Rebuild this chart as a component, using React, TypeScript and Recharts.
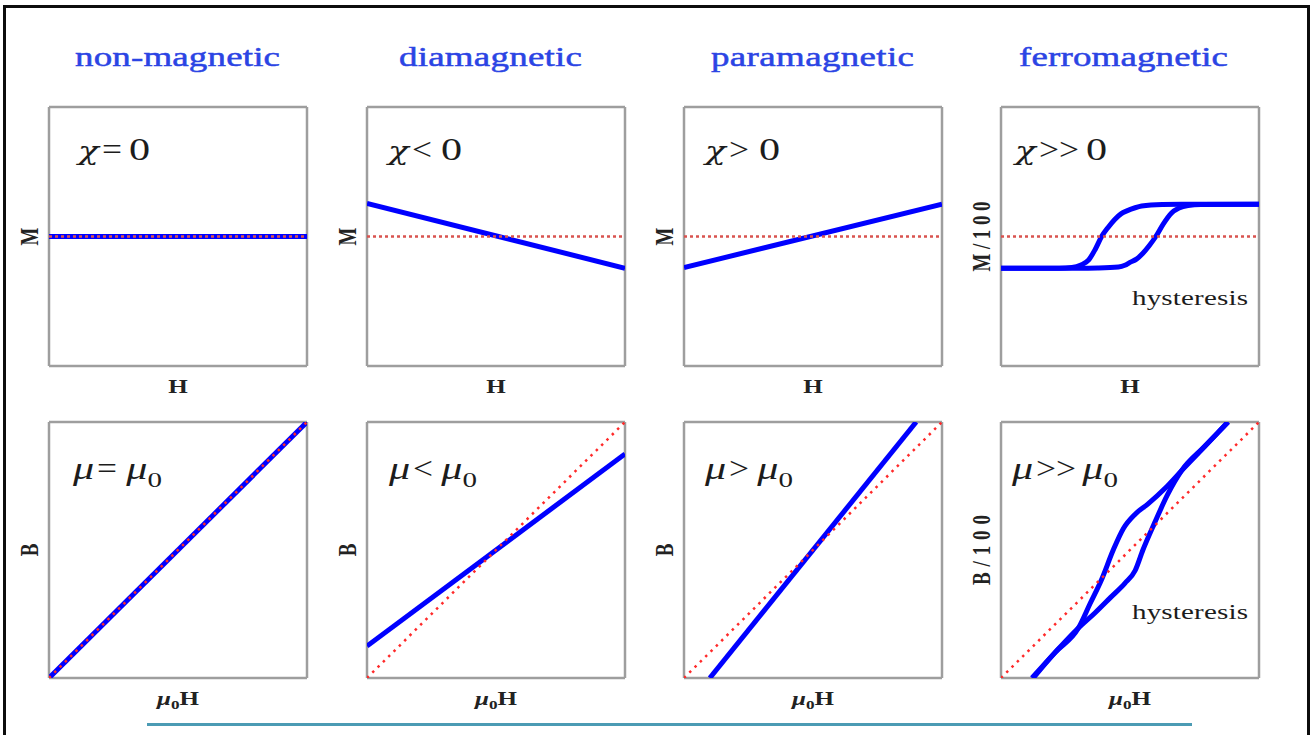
import React from "react";
import { LineChart, Line, XAxis, YAxis, CartesianGrid, Label } from "recharts";

type Pt = { x: number; y: number };

// Lettering in this figure is set wide, so every text run is stretched horizontally.
const SX = 1.32;
const SERIF = "'Liberation Serif', 'Times New Roman', serif";

const materials = ["non-magnetic", "diamagnetic", "paramagnetic", "ferromagnetic"];
const chiRelations = ["=", "<", ">", ">>"];
const muRelations = ["=", "<", ">", ">>"];
const magnetizationLabels = ["M", "M", "M", "M/100"];
const inductionLabels = ["B", "B", "B", "B/100"];

// vacuum references (red dotted)
const zeroLine: Pt[] = [
  { x: -1, y: 0 },
  { x: 1, y: 0 },
];
const vacuumLine: Pt[] = [
  { x: -1, y: -1 },
  { x: 1, y: 1 },
];

// M(H)
const nonMagM: Pt[] = [
  { x: -1, y: 0 },
  { x: 1, y: 0 },
];
const diaM: Pt[] = [
  { x: -1, y: 0.255 },
  { x: 1, y: -0.245 },
];
const paraM: Pt[] = [
  { x: -1, y: -0.24 },
  { x: 1, y: 0.25 },
];
const ferroMFalling: Pt[] = [
  { x: -1, y: -0.245 },
  { x: -0.55, y: -0.245 },
  { x: -0.45, y: -0.24 },
  { x: -0.38, y: -0.22 },
  { x: -0.32, y: -0.18 },
  { x: -0.27, y: -0.1 },
  { x: -0.22, y: 0 },
  { x: -0.17, y: 0.07 },
  { x: -0.12, y: 0.13 },
  { x: -0.07, y: 0.175 },
  { x: -0.02, y: 0.2 },
  { x: 0.04, y: 0.222 },
  { x: 0.09, y: 0.235 },
  { x: 0.25, y: 0.248 },
  { x: 0.4, y: 0.25 },
  { x: 1, y: 0.25 },
];
const ferroMRising: Pt[] = [
  { x: -1, y: -0.245 },
  { x: -0.4, y: -0.245 },
  { x: -0.25, y: -0.243 },
  { x: -0.09, y: -0.235 },
  { x: -0.04, y: -0.222 },
  { x: 0, y: -0.2 },
  { x: 0.05, y: -0.175 },
  { x: 0.1, y: -0.13 },
  { x: 0.15, y: -0.07 },
  { x: 0.2, y: 0 },
  { x: 0.26, y: 0.1 },
  { x: 0.32, y: 0.18 },
  { x: 0.38, y: 0.22 },
  { x: 0.45, y: 0.24 },
  { x: 0.55, y: 0.248 },
  { x: 1, y: 0.25 },
];

// B(μ0H)
const nonMagB: Pt[] = [
  { x: -1, y: -1 },
  { x: 1, y: 1 },
];
const diaB: Pt[] = [
  { x: -1, y: -0.75 },
  { x: 1, y: 0.75 },
];
const paraB: Pt[] = [
  { x: -0.8, y: -1 },
  { x: 0.8, y: 1 },
];
const ferroBUpper: Pt[] = [
  { x: -0.75, y: -1 },
  { x: -0.58, y: -0.8 },
  { x: -0.4, y: -0.61 },
  { x: -0.31, y: -0.42 },
  { x: -0.22, y: -0.23 },
  { x: -0.13, y: 0 },
  { x: -0.05, y: 0.17 },
  { x: 0.04, y: 0.28 },
  { x: 0.14, y: 0.36 },
  { x: 0.27, y: 0.48 },
  { x: 0.4, y: 0.62 },
  { x: 0.58, y: 0.81 },
  { x: 0.76, y: 1 },
];
const ferroBLower: Pt[] = [
  { x: -0.76, y: -1 },
  { x: -0.58, y: -0.8 },
  { x: -0.4, y: -0.61 },
  { x: -0.27, y: -0.49 },
  { x: -0.15, y: -0.37 },
  { x: -0.04, y: -0.26 },
  { x: 0.04, y: -0.16 },
  { x: 0.1, y: 0 },
  { x: 0.19, y: 0.21 },
  { x: 0.29, y: 0.43 },
  { x: 0.4, y: 0.62 },
  { x: 0.58, y: 0.81 },
  { x: 0.76, y: 1 },
];

const magnetizationCurves: Pt[][][] = [[nonMagM], [diaM], [paraM], [ferroMFalling, ferroMRising]];
const inductionCurves: Pt[][][] = [[nonMagB], [diaB], [paraB], [ferroBUpper, ferroBLower]];

// layout
const PANEL_W = 258;
const Y_AXIS_W = 40;
const X_AXIS_H = 40;
const PAD = 8;
const panelLefts = [49, 367, 684, 1001];
const topRow = { top: 107, height: 259 };
const bottomRow = { top: 422, height: 256 };

const titleX = [75, 399, 711, 1019];
const titleW = [205, 183, 203, 209];
const chiX = [78, 388, 705, 1015];
const chiW = [72, 74, 75, 92];
const muX = [73, 389, 705, 1012];
const muW = [89, 88, 88, 106];
const REL_GAP = 24;

const xLabel = (kind: "H" | "muH") => (props: any) => {
  const vb = props.viewBox || {};
  const cx = vb.x + vb.width / 2;
  return (
    <text
      transform={`translate(${cx},${vb.y + 27}) scale(${SX},1)`}
      textAnchor="middle"
      fontFamily={SERIF}
      fontWeight="bold"
      fontSize={19}
      fill="#222"
    >
      {kind === "H" ? (
        "H"
      ) : (
        <>
          <tspan fontStyle="italic">μ</tspan>
          <tspan fontSize={13} dy={4}>0</tspan>
          <tspan dy={-4}>H</tspan>
        </>
      )}
    </text>
  );
};

const yLabel = (text: string) => (props: any) => {
  const vb = props.viewBox || {};
  const bx = vb.x + vb.width - 11;
  const cy = vb.y + vb.height / 2;
  const long = text.length > 1;
  return (
    <text
      transform={`translate(${bx},${cy}) scale(${SX},1) rotate(-90)`}
      textAnchor="middle"
      fontFamily={SERIF}
      fontWeight="bold"
      fontSize={19}
      fill="#222"
      textLength={long ? 70 : undefined}
      lengthAdjust="spacing"
    >
      {text}
    </text>
  );
};

type PanelProps = {
  left: number;
  top: number;
  height: number;
  curves: Pt[][];
  reference: Pt[];
  yText: string;
  xKind: "H" | "muH";
  yTicks: number[];
  refDash: string;
  refColor: string;
};

function Panel({ left, top, height, curves, reference, yText, xKind, yTicks, refDash, refColor }: PanelProps) {
  return (
    <div style={{ position: "absolute", left: left - Y_AXIS_W, top: top - PAD }}>
      <LineChart
        width={Y_AXIS_W + PANEL_W + PAD}
        height={PAD + height + X_AXIS_H}
        margin={{ top: PAD, right: PAD, bottom: 0, left: 0 }}
      >
        <CartesianGrid stroke="#9e9e9e" strokeWidth={2.5} />
        <XAxis
          type="number"
          dataKey="x"
          domain={[-1, 1]}
          ticks={[-1, 0, 1]}
          tick={false}
          tickLine={false}
          axisLine={false}
          height={X_AXIS_H}
          allowDataOverflow
        >
          <Label content={xLabel(xKind)} />
        </XAxis>
        <YAxis
          type="number"
          dataKey="y"
          domain={[-1, 1]}
          ticks={yTicks}
          tick={false}
          tickLine={false}
          axisLine={false}
          width={Y_AXIS_W}
          allowDataOverflow
        >
          <Label content={yLabel(yText)} />
        </YAxis>
        {curves.map((c, i) => (
          <Line
            key={i}
            data={c}
            dataKey="y"
            type="monotone"
            stroke="#0000ff"
            strokeWidth={5}
            dot={false}
            activeDot={false}
            isAnimationActive={false}
          />
        ))}
        <Line
          data={reference}
          dataKey="y"
          type="linear"
          stroke={refColor}
          strokeWidth={2.5}
          strokeDasharray={refDash}
          dot={false}
          activeDot={false}
          isAnimationActive={false}
        />
      </LineChart>
    </div>
  );
}

// relation sign between the two sides of an inequality
function Relation({ x, y, r }: { x: number; y: number; r: string }) {
  return (
    <text
      transform={`translate(${x},${y}) scale(${SX},1)`}
      fontFamily={SERIF}
      fontSize={32}
      fill="#1c1c1c"
      textLength={(r.length > 1 ? 40 : 20) / SX}
      lengthAdjust="spacingAndGlyphs"
    >
      {r}
    </text>
  );
}

function Annotations() {
  const textProps = { fontFamily: SERIF, fill: "#1c1c1c" };
  return (
    <svg
      width={1314}
      height={735}
      style={{ position: "absolute", left: 0, top: 0, pointerEvents: "none" }}
    >
      {materials.map((m, i) => (
        <text
          key={m}
          transform={`translate(${titleX[i]},66) scale(${SX},1)`}
          fontFamily={SERIF}
          fontSize={28}
          fill="#2b44e4"
          stroke="#2b44e4"
          strokeWidth={0.5}
          textLength={titleW[i] / SX}
          lengthAdjust="spacing"
        >
          {m}
        </text>
      ))}
      {chiRelations.map((r, i) => (
        <g key={"chi" + i}>
          <text
            transform={`translate(${chiX[i]},160) scale(${SX},1)`}
            fontStyle="italic"
            fontFamily="'DejaVu Serif', serif"
            fontSize={26}
            fill="#1c1c1c"
          >
            χ
          </text>
          <Relation x={chiX[i] + REL_GAP} y={160} r={r} />
          <text
            transform={`translate(${chiX[i] + chiW[i]},160) scale(${SX},1)`}
            textAnchor="end"
            fontSize={32}
            {...textProps}
          >
            0
          </text>
        </g>
      ))}
      {muRelations.map((r, i) => (
        <g key={"mu" + i}>
          <text
            transform={`translate(${muX[i]},479) scale(${SX},1)`}
            fontStyle="italic"
            fontSize={32}
            {...textProps}
          >
            μ
          </text>
          <Relation x={muX[i] + REL_GAP} y={479} r={r} />
          <text
            transform={`translate(${muX[i] + muW[i]},479) scale(${SX},1)`}
            textAnchor="end"
            fontSize={32}
            {...textProps}
          >
            <tspan fontStyle="italic">μ</tspan>
            <tspan fontSize={22} dy={8}>0</tspan>
          </text>
        </g>
      ))}
      {[305, 619].map((y) => (
        <text
          key={"hys" + y}
          transform={`translate(1132,${y}) scale(${SX},1)`}
          fontSize={22}
          textLength={116 / SX}
          lengthAdjust="spacing"
          {...textProps}
        >
          hysteresis
        </text>
      ))}
    </svg>
  );
}

export default function App() {
  return (
    <div
      style={{
        position: "absolute",
        left: 0,
        top: 0,
        width: 1314,
        height: 735,
        overflow: "hidden",
        background: "#fff",
      }}
    >
      <div
        style={{
          position: "absolute",
          left: 3,
          top: 5,
          width: 1307,
          height: 800,
          border: "3px solid #0d0d0d",
          boxSizing: "border-box",
        }}
      />
      {panelLefts.map((left, i) => (
        <Panel
          key={"m" + i}
          left={left}
          top={topRow.top}
          height={topRow.height}
          curves={magnetizationCurves[i]}
          reference={zeroLine}
          yText={magnetizationLabels[i]}
          xKind="H"
          yTicks={[-1, 1]}
          refDash="3 3"
          refColor="#d9534f"
        />
      ))}
      {panelLefts.map((left, i) => (
        <Panel
          key={"b" + i}
          left={left}
          top={bottomRow.top}
          height={bottomRow.height}
          curves={inductionCurves[i]}
          reference={vacuumLine}
          yText={inductionLabels[i]}
          xKind="muH"
          yTicks={[-1, 0, 1]}
          refDash="2.5 5"
          refColor="#ff2a2a"
        />
      ))}
      <Annotations />
      <div
        style={{
          position: "absolute",
          left: 147,
          top: 723,
          width: 1045,
          height: 3,
          background: "#4b9bb4",
        }}
      />
    </div>
  );
}
